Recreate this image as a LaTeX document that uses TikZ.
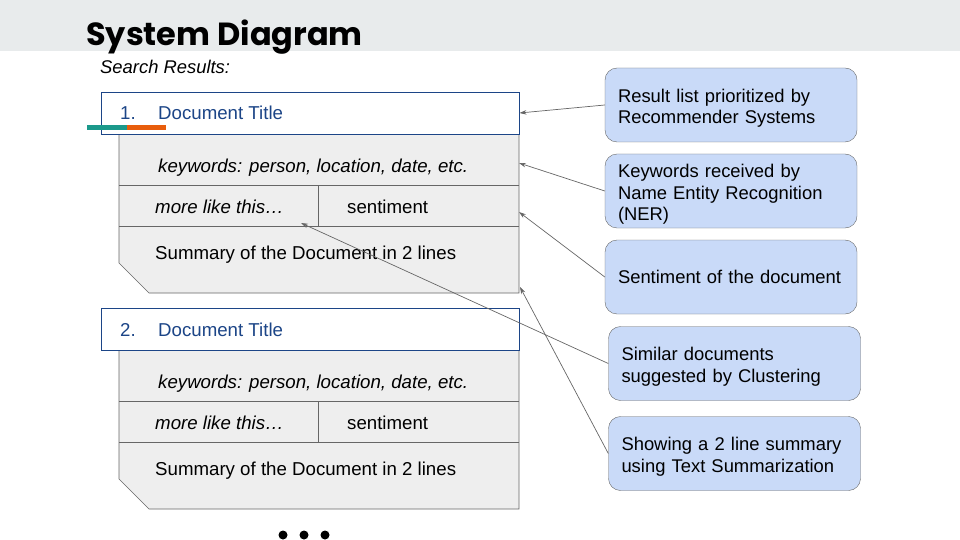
\documentclass[tikz,border=0pt]{standalone}
\usepackage{fontspec}
\setmainfont{Liberation Sans}
\newfontfamily\headfont{Poppins}
\usetikzlibrary{arrows.meta}
\definecolor{bandgray}{HTML}{E8EBEC}
\definecolor{titleblue}{HTML}{1C4587}
\definecolor{rowgray}{HTML}{EEEEEE}
\definecolor{linegray}{HTML}{666666}
\definecolor{calloutblue}{HTML}{C9DAF8}
\definecolor{accentteal}{HTML}{1B998B}
\definecolor{accentorange}{HTML}{E85D0C}
\hyphenpenalty=10000
\exhyphenpenalty=10000

\begin{document}
\begin{tikzpicture}[x=1pt,y=-1pt,
  callout/.style={draw=linegray, fill=calloutblue, rounded corners=12pt, minimum width=252pt, minimum height=74pt, text width=226pt, align=left, inner sep=0pt, font=\fontsize{18.4}{21.5}\selectfont},
  lowtext/.style={execute at begin node={\rule{0pt}{20pt}}},
  pointer/.style={draw=linegray, line width=0.7pt, -{Stealth[length=7pt,width=4.5pt]}},
  rowtext/.style={anchor=base west, inner sep=0pt, font=\fontsize{18.67}{22}\selectfont},
  titlebox/.style={draw=titleblue, fill=white, line width=0.9pt, minimum width=418pt, minimum height=42pt, inner sep=0pt}]
\useasboundingbox (0,0) rectangle (960,540);

% Header band
\fill[bandgray] (0,0) rectangle (960,51);
\node[anchor=base west, inner sep=0pt, font=\headfont\bfseries\fontsize{32}{38}\selectfont] (title) at (86,46) {System Diagram};
\node[anchor=base west, inner sep=0pt, font=\itshape\fontsize{18.4}{22}\selectfont] (search) at (100,74) {Search Results:};

% Two result entries
\foreach \n/\y in {1/0, 2/216} {
  \draw[draw=linegray, fill=rowgray, line width=0.7pt] (119,134+\y) -- (519,134+\y) -- (519,293+\y) -- (149,293+\y) -- (119,263+\y) -- cycle;
  \draw[linegray, line width=0.7pt] (119,185+\y) -- (519,185+\y);
  \draw[linegray, line width=0.7pt] (119,226+\y) -- (519,226+\y);
  \draw[linegray, line width=0.7pt] (318,185+\y) -- (318,226+\y);
  \node[titlebox] (t\n) at (310,113+\y) {};
  \node[rowtext, text=titleblue] (num\n) at (120,120+\y) {\n.};
  \node[rowtext, text=titleblue] (dt\n) at (158,120+\y) {Document Title};
  \node[rowtext, font=\itshape\fontsize{18.67}{22}\selectfont] (kw\n) at (158,172+\y) {keywords: person, location, date, etc.};
  \node[rowtext, font=\itshape\fontsize{18.67}{22}\selectfont] (more\n) at (155,213+\y) {more like this…};
  \node[rowtext] (sent\n) at (347,213+\y) {sentiment};
  \node[rowtext] (sum\n) at (155,259+\y) {Summary of the Document in 2 lines};
}

% Accent bar
\fill[accentteal] (87,125) rectangle (127,130);
\fill[accentorange] (127,125) rectangle (166,130);

% More results
\foreach \x in {283,304,325}
  \fill (\x,535) circle (4.5);

% Callouts
\node[callout, lowtext] (c1) at (731,105) {Result list prioritized by\\Recommender Systems};
\node[callout, lowtext] (c2) at (731,191) {Keywords received by\\Name Entity Recognition\\(NER)};
\node[callout] (c3) at (731,277) {\mbox{Sentiment of the document}};
\node[callout, lowtext] (c4) at (734.5,363.5) {Similar documents\\suggested by Clustering};
\node[callout, lowtext] (c5) at (734.5,453.5) {Showing a 2 line summary\\using Text Summarization};

\coordinate (kwend) at (519,163);
\coordinate (sentend) at (519,212);
\coordinate (moreend) at (301,223);
\coordinate (sumend) at (520,287);

\draw[pointer] (c1.west) -- (t1.east);
\draw[pointer] (c2.west) -- (kwend);
\draw[pointer] (c3.west) -- (sentend);
\draw[pointer] (c4.west) -- (moreend);
\draw[pointer] (c5.west) -- (sumend);
\end{tikzpicture}
\end{document}
